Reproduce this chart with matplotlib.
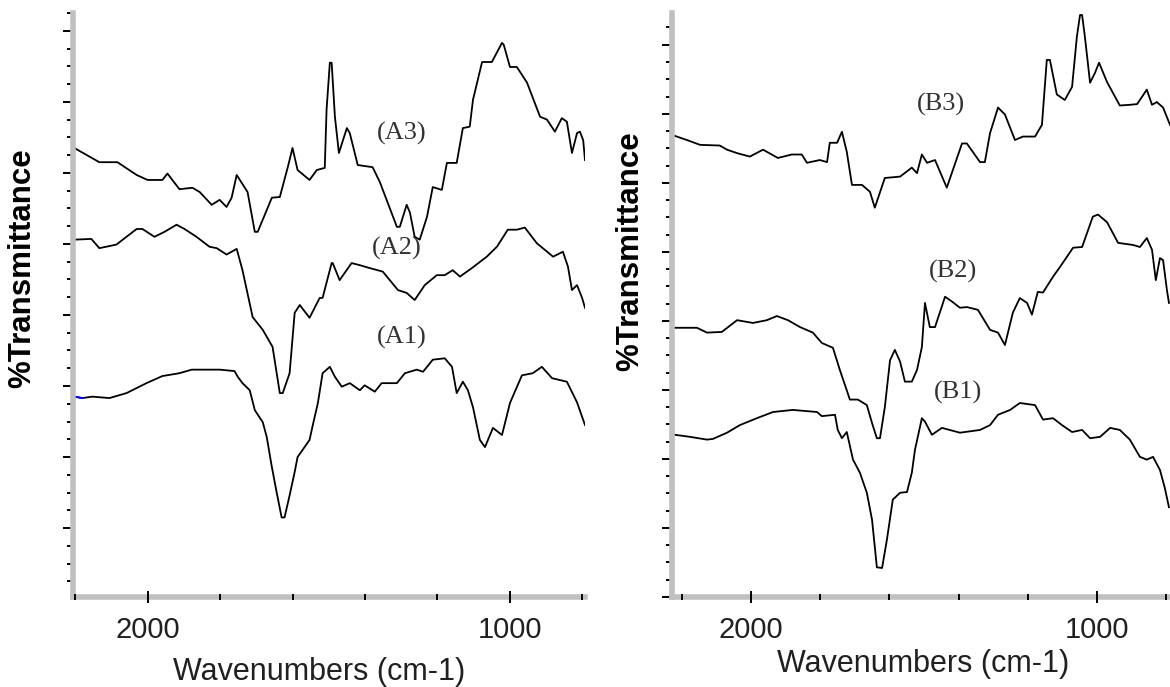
import matplotlib
matplotlib.use("Agg")
import matplotlib.pyplot as plt
from matplotlib.ticker import MultipleLocator

plt.rcParams['font.family'] = ['Liberation Sans', 'DejaVu Sans']

# --- left panel (A): wavenumber (cm-1) and offset %T ---
a3_wn = [2202, 2133, 2083, 2030, 2000, 1959, 1945, 1912, 1876, 1856, 1823, 1801, 1782, 1768, 1754,
         1724, 1704, 1696, 1657, 1635, 1613, 1600, 1586, 1553, 1533, 1511, 1506, 1497, 1492, 1483,
         1472, 1450, 1442, 1420, 1379, 1359, 1312, 1304, 1285, 1276, 1263, 1249, 1229, 1213, 1188,
         1174, 1147, 1130, 1111, 1102, 1077, 1050, 1022, 1017, 1000, 981, 953, 917, 898, 876,
         857, 843, 829, 815, 807, 798, 793]
a3_t = [63.5, 61.5, 61.5, 59.7, 59.0, 59.0, 59.9, 57.7, 57.9, 57.3, 55.5, 56.2, 55.2, 56.5, 59.7,
        57.3, 51.7, 51.7, 56.5, 56.6, 60.8, 63.5, 60.4, 59.0, 60.4, 60.7, 68.9, 75.5, 75.5, 67.9,
        62.8, 66.3, 65.6, 61.1, 60.8, 58.7, 52.4, 52.4, 55.5, 54.4, 51.0, 50.6, 53.8, 58.0, 57.6,
        61.4, 61.4, 66.3, 66.5, 70.3, 75.6, 75.6, 78.3, 78.0, 74.9, 74.9, 72.7, 67.9, 67.5, 65.8,
        67.7, 67.2, 62.8, 65.6, 65.8, 64.6, 61.8]

a2_wn = [2202, 2155, 2133, 2086, 2030, 2014, 1981, 1953, 1920, 1898, 1865, 1829, 1809, 1782, 1754,
         1738, 1710, 1682, 1655, 1635, 1627, 1608, 1594, 1580, 1553, 1525, 1517, 1492, 1489, 1470,
         1437, 1414, 1387, 1351, 1309, 1285, 1263, 1235, 1202, 1180, 1158, 1138, 1105, 1064, 1036,
         1006, 981, 959, 926, 881, 854, 840, 829, 815, 801, 793]
a2_t = [50.6, 50.7, 49.4, 49.9, 52.1, 52.1, 51.0, 51.7, 52.7, 52.1, 51.0, 49.6, 49.4, 48.5, 49.3,
        46.3, 39.7, 37.9, 35.5, 29.0, 29.0, 31.8, 40.3, 41.4, 39.6, 42.4, 42.4, 47.3, 47.3, 44.9,
        47.3, 47.0, 46.6, 46.1, 43.5, 43.1, 42.1, 44.2, 45.6, 45.6, 46.3, 45.4, 46.6, 48.2, 49.6,
        52.0, 52.0, 52.3, 50.1, 48.2, 48.9, 46.8, 43.5, 44.2, 42.4, 41.0]

a1_wn = [2202, 2180, 2152, 2105, 2058, 2003, 1959, 1912, 1878, 1801, 1760, 1751, 1738, 1718, 1704,
         1682, 1671, 1657, 1644, 1630, 1622, 1608, 1594, 1586, 1553, 1544, 1530, 1517, 1497, 1483,
         1464, 1442, 1414, 1401, 1373, 1354, 1312, 1290, 1257, 1240, 1213, 1180, 1160, 1147, 1130,
         1116, 1102, 1083, 1069, 1047, 1022, 1000, 967, 937, 912, 884, 843, 815, 793]
a1_t = [28.5, 28.3, 28.5, 28.3, 29.0, 30.4, 31.4, 31.8, 32.3, 32.3, 32.1, 31.3, 30.4, 29.4, 26.6,
        24.9, 22.8, 18.6, 15.1, 11.5, 11.5, 14.6, 17.9, 20.0, 22.4, 24.5, 27.6, 31.8, 32.7, 31.3,
        29.9, 30.4, 29.4, 30.1, 29.2, 30.4, 30.4, 31.8, 32.3, 32.0, 33.7, 33.9, 32.7, 29.0, 30.6,
        29.4, 27.0, 22.4, 21.4, 24.1, 23.1, 27.6, 31.5, 31.8, 32.7, 31.1, 30.6, 27.7, 24.5]

# --- right panel (B) ---
b3_wn = [2220, 2185, 2147, 2090, 2069, 2040, 2003, 1965, 1922, 1882, 1853, 1838, 1801, 1780, 1772,
         1751, 1737, 1723, 1708, 1679, 1656, 1642, 1613, 1569, 1535, 1520, 1506, 1491, 1468, 1434,
         1390, 1376, 1338, 1324, 1309, 1286, 1266, 1237, 1214, 1179, 1159, 1145, 1136, 1116, 1093,
         1072, 1058, 1049, 1043, 1035, 1020, 1006, 994, 971, 934, 905, 884, 856, 841, 827,
         809, 789]
b3_t = [66.8, 66.2, 65.5, 65.4, 64.8, 64.3, 63.8, 64.8, 63.6, 64.1, 64.1, 62.9, 63.3, 63.0, 65.8,
        65.8, 67.4, 64.5, 59.7, 59.7, 58.7, 56.4, 60.7, 60.9, 62.2, 61.4, 64.1, 62.9, 63.3, 59.3,
        65.7, 65.7, 63.0, 63.0, 67.2, 70.9, 69.9, 66.2, 66.7, 66.7, 68.4, 77.8, 77.8, 72.8, 72.0,
        73.9, 81.2, 84.3, 84.3, 81.2, 74.5, 75.9, 77.4, 74.6, 71.2, 71.3, 71.4, 73.5, 71.3, 71.7,
        70.9, 68.4]

b2_wn = [2220, 2185, 2156, 2127, 2084, 2040, 1994, 1954, 1925, 1893, 1858, 1821, 1795, 1763, 1743,
         1714, 1691, 1665, 1650, 1636, 1627, 1613, 1598, 1584, 1569, 1555, 1535, 1520, 1506, 1497,
         1483, 1468, 1439, 1419, 1396, 1376, 1344, 1309, 1286, 1266, 1243, 1223, 1202, 1188, 1171,
         1156, 1127, 1107, 1069, 1043, 1012, 997, 971, 939, 896, 876, 856, 841, 830, 818,
         809, 798, 792]
b2_t = [39.0, 39.0, 39.0, 38.3, 38.4, 40.1, 39.7, 40.1, 40.7, 40.1, 39.1, 38.3, 36.8, 36.1, 32.9,
        28.6, 28.6, 27.8, 25.2, 23.0, 23.0, 27.5, 34.3, 35.8, 34.1, 31.2, 31.2, 32.9, 36.2, 42.6,
        39.1, 39.1, 43.5, 42.8, 41.9, 42.0, 41.6, 38.7, 38.3, 36.5, 41.2, 43.3, 42.6, 40.9, 44.2,
        44.1, 46.4, 47.8, 50.6, 50.7, 55.1, 55.4, 54.3, 51.3, 51.0, 50.7, 52.0, 50.3, 45.9, 49.1,
        48.8, 44.5, 42.6]

b1_wn = [2220, 2176, 2127, 2110, 2069, 2032, 1983, 1936, 1879, 1809, 1795, 1757, 1749, 1737, 1723,
         1705, 1685, 1665, 1650, 1636, 1621, 1607, 1590, 1569, 1549, 1535, 1526, 1506, 1497, 1477,
         1448, 1396, 1338, 1309, 1286, 1251, 1223, 1179, 1156, 1127, 1101, 1072, 1043, 1020, 991,
         962, 934, 905, 876, 856, 838, 818, 804, 792]
b1_t = [23.5, 23.2, 22.8, 22.9, 23.8, 24.9, 25.9, 26.8, 27.1, 26.8, 26.2, 26.4, 24.2, 23.0, 23.9,
        19.9, 18.0, 15.1, 11.2, 4.3, 4.2, 8.3, 14.1, 15.1, 15.2, 18.0, 21.3, 25.9, 25.4, 23.5,
        24.5, 23.8, 24.2, 24.9, 26.4, 27.1, 28.1, 27.8, 25.7, 25.9, 24.9, 23.9, 24.2, 23.0, 23.2,
        24.5, 24.2, 22.8, 20.3, 19.9, 20.3, 18.4, 15.8, 13.0]

# curve labels: (text, wavenumber, %T)
a_labels = [('(A3)', 1298, 65.5), ('(A2)', 1312, 49.4), ('(A1)', 1298, 36.9)]
b_labels = [('(B3)', 1451, 71.4), ('(B2)', 1416, 47.1), ('(B1)', 1402, 29.7)]

W, H = 1170, 687
GRAY = '#c0c0c0'


def setup_axis(ax, xlim, ylim):
    ax.set_xlim(*xlim)
    ax.set_ylim(*ylim)
    ax.spines['top'].set_visible(False)
    ax.spines['right'].set_visible(False)
    for side in ('left', 'bottom'):
        ax.spines[side].set_color(GRAY)
        ax.spines[side].set_linewidth(4)
    # y ticks hide behind the grey bar, x ticks sit on top of it
    ax.yaxis.set_zorder(1.5)
    ax.xaxis.set_zorder(3)
    ax.xaxis.set_major_locator(MultipleLocator(1000))
    ax.xaxis.set_minor_locator(MultipleLocator(200))
    ax.yaxis.set_major_locator(MultipleLocator(10))
    ax.yaxis.set_minor_locator(MultipleLocator(2.5))
    ax.tick_params(axis='y', which='both', direction='out', labelleft=False, width=1.4, color='black')
    ax.tick_params(axis='y', which='major', length=7)
    ax.tick_params(axis='y', which='minor', length=4.5)
    ax.tick_params(axis='x', which='both', direction='inout', width=1.4, color='black',
                   labelsize=21, labelcolor='#202020', pad=10)
    ax.tick_params(axis='x', which='major', length=8)
    ax.tick_params(axis='x', which='minor', length=4)


fig = plt.figure(figsize=(W / 100, H / 100), dpi=100)

ax1 = fig.add_axes([72.5 / W, (H - 597) / H, (585 - 72.5) / W, 584 / H])
setup_axis(ax1, (2207, 793), (0.3, 82.5))
for wn, t in [(a3_wn, a3_t), (a2_wn, a2_t), (a1_wn, a1_t)]:
    ax1.plot(wn, t, color='black', lw=1.3)
ax1.plot(a1_wn[:2], a1_t[:2], color='blue', lw=1.3)
for txt, x, y in a_labels:
    ax1.text(x, y, txt, family='Liberation Serif', fontsize=19, color='#333333',
             ha='center', va='center')

ax2 = fig.add_axes([672 / W, (H - 597) / H, (1170 - 672) / W, 584 / H])
setup_axis(ax2, (2228, 789), (0, 84.6))
for wn, t in [(b3_wn, b3_t), (b2_wn, b2_t), (b1_wn, b1_t)]:
    ax2.plot(wn, t, color='black', lw=1.3)
for txt, x, y in b_labels:
    ax2.text(x, y, txt, family='Liberation Serif', fontsize=19, color='#333333',
             ha='center', va='center')

fig.text(22 / W, 1 - 268 / H, '%Transmittance', rotation=90, ha='center', va='center',
         fontsize=22.5, fontweight='bold')
fig.text(630 / W, 1 - 251 / H, '%Transmittance', rotation=90, ha='center', va='center',
         fontsize=22.5, fontweight='bold')
fig.text(319 / W, 1 - 672 / H, 'Wavenumbers (cm-1)', ha='center', va='center',
         fontsize=22, color='#202020')
fig.text(923 / W, 1 - 664 / H, 'Wavenumbers (cm-1)', ha='center', va='center',
         fontsize=22, color='#202020')

fig.savefig('out.png', dpi=100)
